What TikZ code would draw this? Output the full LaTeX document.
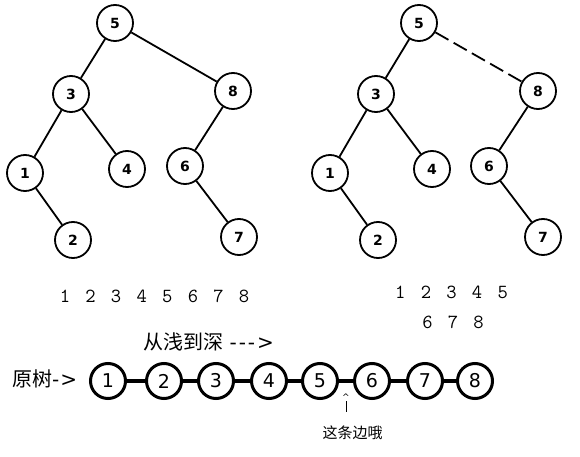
\documentclass[tikz,border=0pt]{standalone}
\usepackage{fontspec}
\setmainfont{DejaVu Sans}
\newfontfamily\cjkf{Noto Sans CJK SC}
\newfontfamily\latf{DejaVu Sans}
\newcommand\gapx{\hspace{15.3pt}}
\begin{document}
\begin{tikzpicture}[x=1pt,y=-1pt,
  tnode/.style={circle,draw,line width=1.8pt,minimum size=36pt,inner sep=0pt,font=\fontsize{14}{14}\selectfont\bfseries},
  tedge/.style={line width=1.8pt},
  dedge/.style={line width=1.8pt,dash pattern=on 15pt off 6pt},
  cnode/.style={circle,draw,line width=3pt,minimum size=35pt,inner sep=0pt,font=\fontsize{19}{19}\selectfont},
  cedge/.style={line width=4pt},
  numrow/.style={font=\ttfamily\fontsize{20}{20}\selectfont,inner sep=0pt},
  cjkbig/.style={font=\cjkf\fontsize{20}{20}\selectfont,inner sep=0pt,anchor=west},
  cjksmall/.style={font=\cjkf\fontsize{15}{15}\selectfont,inner sep=0pt}]
\useasboundingbox[fill=white] (0,0) rectangle (580,457);
% left tree
\node[tnode] (a5) at (115,23) {5};
\node[tnode] (a3) at (71,94) {3};
\node[tnode] (a8) at (233,91) {8};
\node[tnode] (a1) at (25,173) {1};
\node[tnode] (a4) at (127,169) {4};
\node[tnode] (a6) at (185,166) {6};
\node[tnode] (a2) at (73,240) {2};
\node[tnode] (a7) at (239,237) {7};
\draw[tedge] (a5) -- (a3);
\draw[tedge] (a5) -- (a8);
\draw[tedge] (a3) -- (a1);
\draw[tedge] (a3) -- (a4);
\draw[tedge] (a1) -- (a2);
\draw[tedge] (a8) -- (a6);
\draw[tedge] (a6) -- (a7);
% right tree
\node[tnode] (b5) at (419,23) {5};
\node[tnode] (b3) at (376,94) {3};
\node[tnode] (b8) at (538,91) {8};
\node[tnode] (b1) at (330,173) {1};
\node[tnode] (b4) at (432,169) {4};
\node[tnode] (b6) at (489,166) {6};
\node[tnode] (b2) at (378,240) {2};
\node[tnode] (b7) at (543,237) {7};
\draw[tedge] (b5) -- (b3);
\draw[dedge] (b5) -- (b8);
\draw[tedge] (b3) -- (b1);
\draw[tedge] (b3) -- (b4);
\draw[tedge] (b1) -- (b2);
\draw[tedge] (b8) -- (b6);
\draw[tedge] (b6) -- (b7);
% number rows
\node[numrow] (r1) at (154.5,296) {1\gapx 2\gapx 3\gapx 4\gapx 5\gapx 6\gapx 7\gapx 8};
\node[numrow] (r2) at (451.5,292.5) {1\gapx 2\gapx 3\gapx 4\gapx 5};
\node[numrow] (r3) at (453,322.5) {6\gapx 7\gapx 8};
% labels
\node[cjkbig] (deep) at (143,342) {从浅到深{\latf\ -\kern2pt-\kern2pt-\kern2pt>}};
\node[cjkbig] (yuan) at (12,379) {原树{\latf -\kern1pt>}};
% chain
\node[cnode] (c1) at (108,381) {1};
\node[cnode] (c2) at (164,381) {2};
\node[cnode] (c3) at (216,381) {3};
\node[cnode] (c4) at (269,381) {4};
\node[cnode] (c5) at (320,381) {5};
\node[cnode] (c6) at (372,381) {6};
\node[cnode] (c7) at (425,381) {7};
\node[cnode] (c8) at (475,381) {8};
\draw[cedge] (c1) -- (c2);
\draw[cedge] (c2) -- (c3);
\draw[cedge] (c3) -- (c4);
\draw[cedge] (c4) -- (c5);
\draw[cedge] (c5) -- (c6);
\draw[cedge] (c6) -- (c7);
\draw[cedge] (c7) -- (c8);
% pointer
\node[font=\fontsize{9}{9}\selectfont,inner sep=0pt] (caret) at (346,397) {\textasciicircum};
\coordinate (tail) at (346,412);
\draw[line width=1pt] (346,401) -- (tail);
\node[cjksmall] (note) at (352.5,433) {这条边哦};
\end{tikzpicture}
\end{document}
